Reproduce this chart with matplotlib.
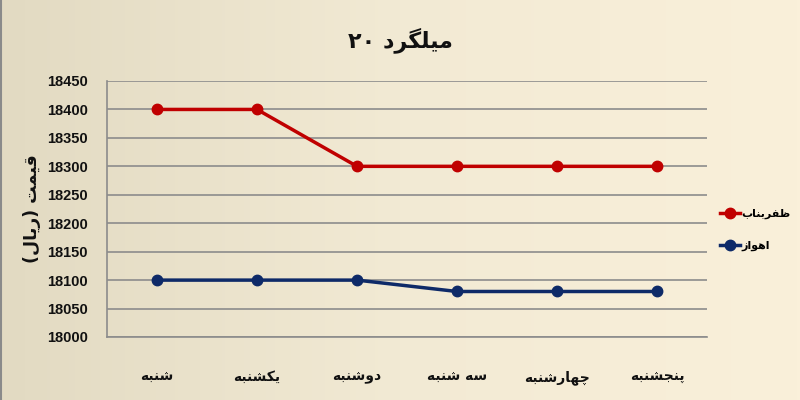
import matplotlib
matplotlib.use("Agg")
import matplotlib.pyplot as plt
import numpy as np
from matplotlib.colors import LinearSegmentedColormap

# ---------------- data ----------------
days = ["شنبه", "یکشنبه", "دوشنبه", "سه شنبه", "چهارشنبه", "پنجشنبه"]
zafarbonab = [18400, 18400, 18300, 18300, 18300, 18300]
ahvaz = [18100, 18100, 18100, 18080, 18080, 18080]
series_names = ["ظفربناب", "اهواز"]
title_text = "میلگرد ۲۰"
ylabel_text = "قیمت (ریال)"
yticks = [18000, 18050, 18100, 18150, 18200, 18250, 18300, 18350, 18400, 18450]

# ------------- minimal Persian shaping -------------
FORMS = {  # isolated, final, initial, medial
    'ا': ('\uFE8D', '\uFE8E', None, None),
    'ب': ('\uFE8F', '\uFE90', '\uFE91', '\uFE92'),
    'پ': ('\uFB56', '\uFB57', '\uFB58', '\uFB59'),
    'ت': ('\uFE95', '\uFE96', '\uFE97', '\uFE98'),
    'ج': ('\uFE9D', '\uFE9E', '\uFE9F', '\uFEA0'),
    'چ': ('\uFB7A', '\uFB7B', '\uFB7C', '\uFB7D'),
    'د': ('\uFEA9', '\uFEAA', None, None),
    'ر': ('\uFEAD', '\uFEAE', None, None),
    'ز': ('\uFEAF', '\uFEB0', None, None),
    'س': ('\uFEB1', '\uFEB2', '\uFEB3', '\uFEB4'),
    'ش': ('\uFEB5', '\uFEB6', '\uFEB7', '\uFEB8'),
    'ظ': ('\uFEC5', '\uFEC6', '\uFEC7', '\uFEC8'),
    'ف': ('\uFED1', '\uFED2', '\uFED3', '\uFED4'),
    'ق': ('\uFED5', '\uFED6', '\uFED7', '\uFED8'),
    'ک': ('\uFB8E', '\uFB8F', '\uFB90', '\uFB91'),
    'گ': ('\uFB92', '\uFB93', '\uFB94', '\uFB95'),
    'ل': ('\uFEDD', '\uFEDE', '\uFEDF', '\uFEE0'),
    'م': ('\uFEE1', '\uFEE2', '\uFEE3', '\uFEE4'),
    'ن': ('\uFEE5', '\uFEE6', '\uFEE7', '\uFEE8'),
    'ه': ('\uFEE9', '\uFEEA', '\uFEEB', '\uFEEC'),
    'و': ('\uFEED', '\uFEEE', None, None),
    'ی': ('\uFBFC', '\uFBFD', '\uFBFE', '\uFBFF'),
}


def dual(c):
    return c in FORMS and FORMS[c][2] is not None


def shape(s):
    out = []
    for i, c in enumerate(s):
        if c not in FORMS:
            out.append(c)
            continue
        prev = s[i - 1] if i > 0 else ''
        nxt = s[i + 1] if i + 1 < len(s) else ''
        jp = dual(prev)
        jn = dual(c) and nxt in FORMS
        iso, fin, ini, med = FORMS[c]
        if jp and jn:
            out.append(med)
        elif jp:
            out.append(fin)
        elif jn:
            out.append(ini)
        else:
            out.append(iso)
    return ''.join(out)


def visual(s):
    sh = shape(s)
    runs, cur, curdig = [], '', None
    for c in sh:
        d = c.isdigit()
        if curdig is None or d == curdig:
            cur += c
        else:
            runs.append((cur, curdig))
            cur = c
        curdig = d
    if cur:
        runs.append((cur, curdig))
    mirror = {'(': ')', ')': '('}
    res = []
    for txt, d in reversed(runs):
        if d:
            res.append(txt)
        else:
            res.append(''.join(mirror.get(ch, ch) for ch in reversed(txt)))
    return ''.join(res)


# ---------------- figure ----------------
fig = plt.figure(figsize=(8, 4), dpi=100)

bg = fig.add_axes([0, 0, 1, 1], zorder=-10)
grad = np.linspace(0, 1, 256)[None, :]
cmap = LinearSegmentedColormap.from_list("bg", ["#E2DAC2", "#F2EAD4", "#FAF0DA"])
bg.imshow(grad, aspect='auto', cmap=cmap, extent=[0, 1, 0, 1])
bg.set_xlim(0, 1)
bg.set_ylim(0, 1)
bg.axis('off')
bg.plot([0.0015, 0.0015], [0, 1], color="#8A8A8A", lw=1.5)

ax = fig.add_axes([107 / 800, 1 - 337 / 400, 600 / 800, 256 / 400])
ax.set_facecolor('none')
x = np.arange(len(days))

red = "#C00000"
blue = "#0E2A68"
l1, = ax.plot(x, zafarbonab, color=red, lw=2.5, marker='o', ms=7.5, zorder=3)
l2, = ax.plot(x, ahvaz, color=blue, lw=2.5, marker='o', ms=7.5, zorder=3)

ax.set_xlim(-0.5, len(days) - 0.5)
ax.set_ylim(18000, 18450)
ax.set_yticks(yticks)
ax.yaxis.grid(True, color="#8C8C8C", lw=1.2)
ax.set_axisbelow(True)
for sp in ['top', 'right']:
    ax.spines[sp].set_visible(False)
for sp in ['left', 'bottom']:
    ax.spines[sp].set_color("#8C8C8C")
    ax.spines[sp].set_linewidth(1.2)
ax.tick_params(axis='both', length=0)
ax.tick_params(axis='y', pad=14)
ax.tick_params(axis='x', pad=24)
for t in ax.get_yticklabels():
    t.set_fontfamily("Liberation Sans")
    t.set_fontweight("bold")
    t.set_fontsize(10.5)
    t.set_color("#111111")
ax.set_xticks(x)
ax.set_xticklabels([visual(d) for d in days], fontfamily="DejaVu Sans",
                   fontweight="bold", fontsize=10, color="#111111")

ax.set_ylabel(visual(ylabel_text), fontfamily="DejaVu Sans", fontweight="bold",
              fontsize=12.5, labelpad=4, color="#111111")

fig.text(400 / 800, 1 - 40 / 400, visual(title_text), ha='center', va='center',
         fontfamily="DejaVu Sans", fontweight="bold", fontsize=16, color="#111111")

leg = fig.legend([l1, l2], [visual(n) for n in series_names],
                 loc='center left', bbox_to_anchor=(720 / 800, 1 - 230 / 400),
                 frameon=False, handlelength=1.8, handletextpad=0.15,
                 labelspacing=1.9, borderpad=0, borderaxespad=0,
                 prop={'family': 'DejaVu Sans', 'weight': 'bold', 'size': 8})

fig.savefig("out.png", dpi=100)
